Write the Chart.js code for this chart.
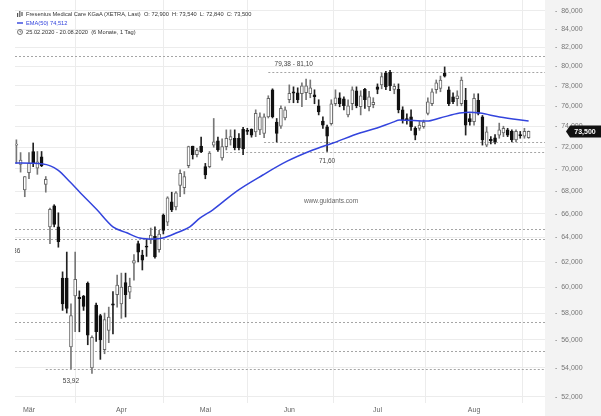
<!DOCTYPE html>
<html>
<head>
<meta charset="utf-8">
<script src="https://cdn.jsdelivr.net/npm/chart.js@4.4.1/dist/chart.umd.min.js"></script>
<style>
html, body { margin: 0; padding: 0; background: #fff; }
#wrap { position: relative; width: 601px; height: 416px; font-family: "Liberation Sans", Arial, sans-serif; }
#c { position: absolute; left: 0; top: 0; }
.hd { position: absolute; left: 17px; font-size: 5.7px; color: #333; white-space: nowrap; line-height: 8px; }
.hd svg { vertical-align: -1px; margin-right: 3px; }
</style>
</head>
<body>
<div id="wrap">
  <canvas id="c" width="601" height="416"></canvas>
  <div class="hd" style="top:10px"><svg width="6" height="6" viewBox="0 0 6 6"><rect x="0" y="2" width="1.2" height="4" fill="#555"/><rect x="2.2" y="0" width="1.2" height="6" fill="#555"/><rect x="4.4" y="1" width="1.2" height="4" fill="#555"/></svg>Fresenius Medical Care KGaA (XETRA, Last)&nbsp; O: 72,900&nbsp; H: 73,540&nbsp; L: 72,840&nbsp; C: 73,500</div>
  <div class="hd" style="top:19px;color:#3344dd"><svg width="6" height="6" viewBox="0 0 6 6"><rect x="0" y="2.3" width="6" height="1.4" fill="#3344dd"/></svg>EMA(50) 74,512</div>
  <div class="hd" style="top:28px"><svg width="6" height="6" viewBox="0 0 6 6"><circle cx="3" cy="3" r="2.5" fill="none" stroke="#555" stroke-width="0.8"/><path d="M3 1.5V3H4.3" fill="none" stroke="#555" stroke-width="0.7"/></svg>25.02.2020 - 20.08.2020&nbsp; (6 Monate, 1 Tag)</div>
</div>
<script>
// Handelstage ab 26.02.2020 (Index 1), 25.02. liegt links ausserhalb
const firstDay = 1;
const opens  = [72.2,70.4,68.1,69.65,71.6,70.05,71.1,68.6,64.9,66.7,64.9,60.7,60.7,55.5,59.3,59.2,59.3,60.3,54.0,58.6,
  57.8,55.3,56.7,58.7,59.4,58.7,60.35,59.6,61.9,63.5,62.55,63.3,63.8,64.1,63.0,65.9,65.3,67.05,66.6,68.5,
  68.3,70.3,72.1,71.3,72.1,70.2,70.2,72.2,72.6,71.0,72.05,72.7,72.85,72.85,73.7,73.6,73.7,73.45,73.65,73.3,
  74.9,77.6,74.4,74.0,74.8,76.6,77.4,77.3,77.2,77.3,77.2,77.1,76.0,74.5,73.95,74.25,76.2,76.8,76.7,75.1,
  76.2,77.5,75.9,77.65,75.9,76.1,77.9,78.1,79.3,79.4,77.65,77.65,75.6,74.75,74.9,73.8,73.8,73.95,75.25,76.2,
  77.6,77.75,79.3,77.6,76.9,76.7,76.2,76.55,74.75,74.45,76.55,74.9,72.2,72.75,72.9,73.15,73.35,73.65,73.5,72.7,
  73.2,73.05,72.9];
const highs  = [72.7,71.5,69.3,71.5,72.4,71.6,71.6,69.3,66.5,66.8,66.1,61.2,62.8,58.7,62.8,59.7,59.35,60.4,56.3,58.75,
  57.9,58.0,58.45,59.65,60.95,61.1,61.1,60.7,62.6,63.7,62.95,63.85,64.8,64.9,64.6,66.0,67.5,67.9,67.95,69.9,
  69.75,72.1,72.1,71.9,72.95,70.5,71.6,74.75,72.95,72.8,73.65,73.65,73.65,73.3,73.9,73.8,73.75,75.6,75.3,75.2,
  77.0,77.7,74.75,76.0,75.9,78.1,77.9,77.8,78.3,78.7,78.6,77.6,76.6,74.9,74.1,76.6,77.6,77.3,76.9,76.6,
  77.9,77.9,77.5,77.75,77.45,76.8,78.2,79.3,79.5,79.6,78.2,78.2,75.9,75.2,75.6,73.95,74.5,74.6,76.8,77.7,
  78.6,79.0,79.95,77.9,77.3,77.5,78.9,77.75,75.2,77.2,77.2,75.05,73.95,73.0,73.2,74.3,74.0,73.8,73.65,73.65,
  73.5,73.8,73.54];
const lows   = [70.5,69.7,67.5,69.1,70.2,69.5,70.2,67.9,63.5,64.9,63.2,58.2,58.0,53.92,56.6,56.6,58.2,55.65,53.6,55.9,
  54.6,55.0,55.8,56.45,58.45,57.6,57.7,59.1,60.55,62.0,61.35,62.45,63.5,62.3,62.8,64.3,65.0,66.2,66.35,67.5,
  67.75,70.1,70.9,71.1,71.5,69.1,70.1,72.0,71.6,70.8,71.75,72.2,71.75,71.75,71.3,73.2,72.95,73.0,73.2,72.9,
  74.8,74.8,72.5,73.8,74.6,76.3,76.3,76.3,75.9,76.6,76.8,76.2,75.1,73.8,71.6,74.1,76.0,75.9,75.6,74.9,
  75.6,75.8,75.1,75.75,75.5,75.8,77.2,77.7,77.6,77.5,77.2,75.3,74.3,74.2,73.6,72.7,73.6,73.8,75.1,76.0,
  77.25,77.4,78.9,76.0,76.2,76.0,76.0,73.15,74.1,74.1,75.1,72.2,72.05,72.3,72.3,72.85,73.0,73.0,72.5,72.5,
  72.85,72.85,72.84];
const closes = [72.3,70.8,69.3,70.5,70.5,70.65,70.3,69.05,66.4,65.1,63.65,58.7,58.35,57.8,60.6,59.1,58.5,56.35,56.2,56.6,
  56.0,57.5,57.7,58.6,60.15,60.0,59.4,60.05,62.1,62.8,62.15,63.2,64.2,62.4,64.3,64.6,67.4,66.35,67.85,69.6,
  69.3,72.05,71.3,71.7,71.55,69.45,71.45,72.5,71.75,72.05,72.85,73.0,71.95,71.95,71.85,73.5,73.15,75.25,74.9,74.9,
  76.75,74.9,73.3,75.75,75.6,77.25,77.25,76.6,78.0,78.0,77.8,76.9,75.4,74.1,73.05,76.2,76.8,76.2,76.0,76.0,
  77.6,76.0,77.0,76.6,76.9,76.35,77.65,78.95,77.9,78.0,77.95,75.6,74.6,74.6,73.95,73.15,74.1,74.4,76.4,77.4,
  78.3,78.6,79.0,76.2,76.4,77.0,78.6,74.1,74.45,76.75,75.25,72.7,73.45,72.6,72.5,73.65,73.8,73.15,72.7,73.5,
  73.1,73.5,73.5];

const emaDay = [0.7,7.3,10.9,13.8,16.1,20.2,24,27.3,30.4,33.5,35.9,39.2,42.3,44.7,47.8,53.5,59.7,65.5,71.6,76.4,
  82.8,86.9,90.7,92.3,98.8,101.9,106.6,109,111.4,116.1,123];
const emaVal = [70.53,70.45,69.89,68.8,67.9,66.36,64.9,64.4,63.96,63.88,63.96,64.4,64.9,65.64,66.36,68.0,69.44,70.7,71.74,72.4,
  73.35,73.83,74.4,74.6,74.5,74.8,75.28,75.37,75.28,74.9,74.51];

const monthLabels = ['Mär', 'Apr', 'Mai', 'Jun', 'Jul', 'Aug'];
const monthStarts = [4, 26, 46, 66, 87, 110];
const yTicks = [52, 54, 56, 58, 60, 62, 64, 66, 68, 70, 72, 74, 76, 78, 80, 82, 84, 86];

// Horizontale Marken
const levelValues = [81.10, 79.38, 72.50, 71.60, 64.70, 63.90, 57.30, 55.20, 53.92];
const levelFrom   = [0, 61, 60, 50, 0, 0, 0, 0, 8];

const days = closes.map((c, k) => firstDay + k);
const up = closes.map((c, k) => c >= opens[k]);

const fmt = v => v.toFixed(3).replace('.', ',');

const bgPanel = {
  id: 'bgPanel',
  beforeDraw(chart) {
    const { ctx, chartArea } = chart;
    ctx.save();
    ctx.fillStyle = '#f3f3f3';
    ctx.fillRect(chartArea.right, 0, chart.width - chartArea.right, chart.height);
    ctx.restore();
  }
};

const marks = {
  id: 'marks',
  beforeDatasetsDraw(chart) {
    const { ctx, chartArea } = chart;
    const xs = chart.scales.x, ys = chart.scales.y;
    ctx.save();
    ctx.beginPath();
    ctx.rect(chartArea.left, chartArea.top, chartArea.right - chartArea.left, chartArea.bottom - chartArea.top);
    ctx.clip();
    ctx.strokeStyle = '#a5a5a5';
    ctx.lineWidth = 1;
    ctx.setLineDash([2, 2]);
    levelValues.forEach((v, k) => {
      const y = Math.round(ys.getPixelForValue(v)) + 0.5;
      ctx.beginPath();
      ctx.moveTo(Math.max(chartArea.left, xs.getPixelForValue(levelFrom[k])), y);
      ctx.lineTo(chartArea.right, y);
      ctx.stroke();
    });
    ctx.setLineDash([]);
    ctx.fillStyle = '#444';
    ctx.font = '6.5px "Liberation Sans", Arial, sans-serif';
    ctx.textBaseline = 'middle';
    ctx.textAlign = 'left';
    ctx.fillText('79,38 - 81,10', xs.getPixelForValue(62.5), (ys.getPixelForValue(81.10) + ys.getPixelForValue(79.38)) / 2);
    ctx.textAlign = 'center';
    ctx.fillText('71,60', xs.getPixelForValue(75), ys.getPixelForValue(71.60) + 10);
    ctx.fillText('53,92', xs.getPixelForValue(14), ys.getPixelForValue(53.92) + 12);
    ctx.fillText('63,36', xs.getPixelForValue(0), ys.getPixelForValue(63.90) + 12);
    ctx.fillStyle = '#666';
    ctx.fillText('www.guidants.com', 331, 201);
    ctx.restore();
  },
  afterDraw(chart) {
    const { ctx, chartArea } = chart;
    const y = chart.scales.y.getPixelForValue(closes[closes.length - 1]);
    const x0 = chartArea.right + 21;
    ctx.save();
    ctx.fillStyle = '#111';
    ctx.beginPath();
    ctx.moveTo(x0, y);
    ctx.lineTo(x0 + 4, y - 6);
    ctx.lineTo(chart.width, y - 6);
    ctx.lineTo(chart.width, y + 6);
    ctx.lineTo(x0 + 4, y + 6);
    ctx.closePath();
    ctx.fill();
    ctx.fillStyle = '#fff';
    ctx.font = 'bold 7px "Liberation Sans", Arial, sans-serif';
    ctx.textAlign = 'center';
    ctx.textBaseline = 'middle';
    ctx.fillText(fmt(closes[closes.length - 1]), x0 + 19, y + 0.5);
    ctx.restore();
  }
};

new Chart(document.getElementById('c'), {
  type: 'bar',
  data: {
    datasets: [
      {
        type: 'line',
        label: 'EMA(50)',
        data: emaDay.map((d, k) => ({ x: d, y: emaVal[k] })),
        borderColor: '#3344dd',
        borderWidth: 1.5,
        pointRadius: 0,
        cubicInterpolationMode: 'monotone',
        order: 1
      },
      {
        label: 'Koerper',
        data: days.map((d, k) => ({ x: d, y: [opens[k], closes[k]] })),
        backgroundColor: up.map(u => u ? '#ffffff' : '#111111'),
        borderColor: up.map(u => u ? '#666666' : '#111111'),
        borderWidth: 1,
        borderSkipped: false,
        barThickness: 3,
        minBarLength: 1,
        grouped: false,
        order: 2
      },
      {
        label: 'Docht',
        data: days.map((d, k) => ({ x: d, y: [lows[k], highs[k]] })),
        backgroundColor: up.map(u => u ? '#777777' : '#222222'),
        barThickness: 1,
        grouped: false,
        order: 3
      }
    ]
  },
  options: {
    responsive: false,
    animation: false,
    layout: { padding: { left: 15, top: 0, right: 0, bottom: 0 } },
    plugins: { legend: { display: false }, tooltip: { enabled: false } },
    scales: {
      x: {
        type: 'linear',
        min: 0.67,
        max: 126.9,
        offset: false,
        grid: { color: '#ececec', drawTicks: false },
        border: { display: false },
        afterBuildTicks: a => { a.ticks = monthStarts.map(v => ({ value: v })); },
        afterFit: a => { a.height = 13; a.paddingLeft = 0; a.paddingRight = 0; },
        ticks: {
          color: '#666',
          font: { size: 7, family: '"Liberation Sans", Arial, sans-serif' },
          padding: 3,
          maxRotation: 0,
          callback: v => monthLabels[monthStarts.indexOf(v)]
        }
      },
      y: {
        type: 'logarithmic',
        position: 'right',
        bounds: 'data',
        min: 51.58,
        max: 87.24,
        grid: { color: '#ececec', drawTicks: false },
        border: { display: false },
        afterBuildTicks: a => { a.ticks = yTicks.map(v => ({ value: v })); },
        afterFit: a => { a.width = 56; a.paddingTop = 0; a.paddingBottom = 0; },
        ticks: {
          color: '#777',
          font: { size: 7, family: '"Liberation Sans", Arial, sans-serif' },
          padding: 10,
          callback: v => '-  ' + fmt(v)
        }
      }
    }
  },
  plugins: [bgPanel, marks]
});
</script>
</body>
</html>
